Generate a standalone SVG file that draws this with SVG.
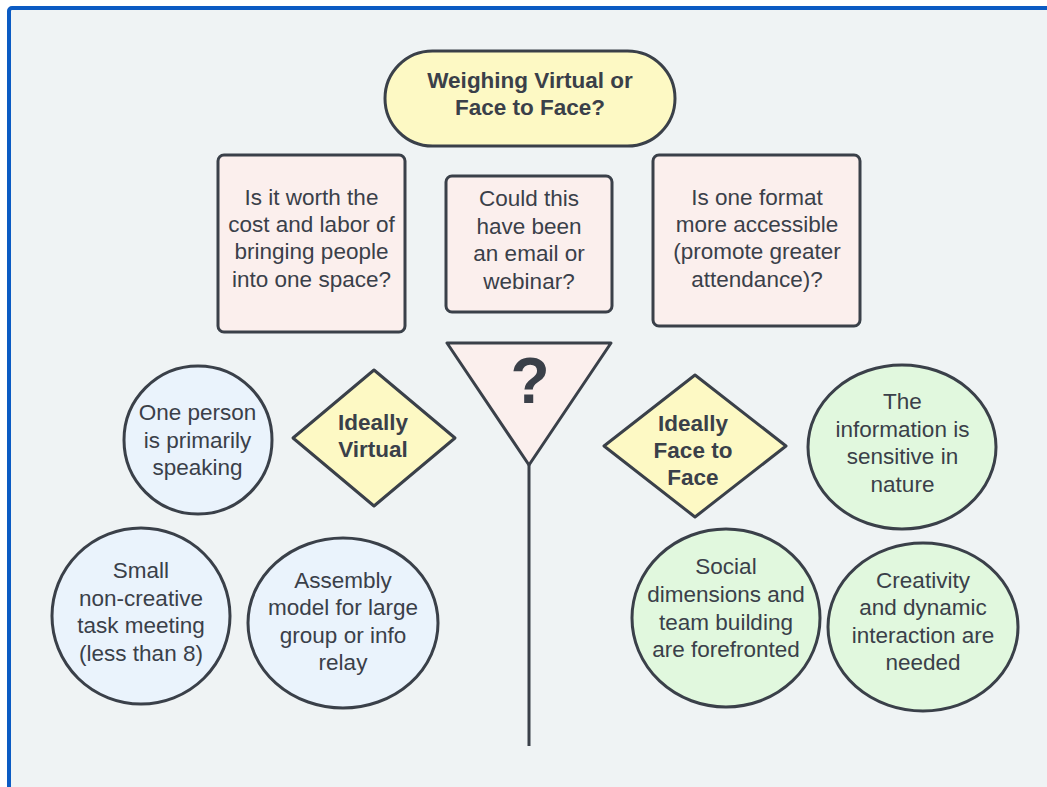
<svg xmlns="http://www.w3.org/2000/svg" width="1047" height="787" viewBox="0 0 1047 787">
<style>
  .shape { stroke: #3a4049; stroke-width: 3; stroke-linejoin: round; }
  .t { font-family: "Liberation Sans", Arial, sans-serif; font-size: 22.5px; fill: #3a4049; text-anchor: middle; }
  .b { font-weight: bold; }
  .yellow { fill: #fdf9c4; }
  .pink { fill: #fbefed; }
  .blue { fill: #eaf3fc; }
  .green { fill: #e1f8de; }
</style>
<rect x="0" y="0" width="1047" height="787" fill="#ffffff"/>
<rect x="9" y="8" width="1100" height="900" rx="3" fill="#eff3f4" stroke="#0b5bc3" stroke-width="4"/>

<g id="connectors">
  <line x1="529" y1="465" x2="529" y2="746" stroke="#3a4049" stroke-width="3"/>
</g>

<g id="title">
  <rect class="shape yellow" x="385" y="51" width="290" height="95" rx="47.5"/>
  <text class="t b" x="530" y="88">Weighing Virtual or</text>
  <text class="t b" x="530" y="115">Face to Face?</text>
</g>

<g id="q-cost">
  <rect class="shape pink" x="218" y="155" width="187" height="177" rx="6"/>
  <text class="t" x="311.5" y="205">Is it worth the</text>
  <text class="t" x="311.5" y="232">cost and labor of</text>
  <text class="t" x="311.5" y="259">bringing people</text>
  <text class="t" x="311.5" y="287">into one space?</text>
</g>

<g id="q-email">
  <rect class="shape pink" x="446" y="176" width="166" height="136" rx="6"/>
  <text class="t" x="529" y="206">Could this</text>
  <text class="t" x="529" y="234">have been</text>
  <text class="t" x="529" y="261">an email or</text>
  <text class="t" x="529" y="289">webinar?</text>
</g>

<g id="q-access">
  <rect class="shape pink" x="653" y="155" width="207" height="171" rx="6"/>
  <text class="t" x="757" y="205">Is one format</text>
  <text class="t" x="757" y="232">more accessible</text>
  <text class="t" x="757" y="259">(promote greater</text>
  <text class="t" x="757" y="287">attendance)?</text>
</g>

<g id="question">
  <polygon class="shape pink" points="447,343 611,343 529,465"/>
  <text class="t b" x="530" y="403" style="font-size:64px">?</text>
</g>

<g id="ideally-virtual">
  <polygon class="shape yellow" points="374,370 455,438 374,506 293,438"/>
  <text class="t b" x="373" y="430">Ideally</text>
  <text class="t b" x="373" y="457">Virtual</text>
</g>

<g id="ideally-face">
  <polygon class="shape yellow" points="695,375 786,446 695,517 604,446"/>
  <text class="t b" x="693" y="431">Ideally</text>
  <text class="t b" x="693" y="458">Face to</text>
  <text class="t b" x="693" y="485">Face</text>
</g>

<g id="one-person">
  <ellipse class="shape blue" cx="198" cy="440" rx="74" ry="74"/>
  <text class="t" x="197.5" y="420">One person</text>
  <text class="t" x="197.5" y="448">is primarily</text>
  <text class="t" x="197.5" y="475">speaking</text>
</g>

<g id="small-meeting">
  <ellipse class="shape blue" cx="141" cy="616" rx="89" ry="88"/>
  <text class="t" x="141" y="578">Small</text>
  <text class="t" x="141" y="606">non-creative</text>
  <text class="t" x="141" y="633">task meeting</text>
  <text class="t" x="141" y="661">(less than 8)</text>
</g>

<g id="assembly">
  <ellipse class="shape blue" cx="343" cy="623" rx="95" ry="85"/>
  <text class="t" x="343" y="588">Assembly</text>
  <text class="t" x="343" y="615">model for large</text>
  <text class="t" x="343" y="643">group or info</text>
  <text class="t" x="343" y="670">relay</text>
</g>

<g id="sensitive">
  <ellipse class="shape green" cx="902" cy="447" rx="94" ry="82"/>
  <text class="t" x="902.5" y="409">The</text>
  <text class="t" x="902.5" y="437">information is</text>
  <text class="t" x="902.5" y="464">sensitive in</text>
  <text class="t" x="902.5" y="492">nature</text>
</g>

<g id="social">
  <ellipse class="shape green" cx="726" cy="618" rx="94" ry="89"/>
  <text class="t" x="726" y="574">Social</text>
  <text class="t" x="726" y="602">dimensions and</text>
  <text class="t" x="726" y="630">team building</text>
  <text class="t" x="726" y="657">are forefronted</text>
</g>

<g id="creativity">
  <ellipse class="shape green" cx="923" cy="627" rx="95" ry="84"/>
  <text class="t" x="923" y="588">Creativity</text>
  <text class="t" x="923" y="615">and dynamic</text>
  <text class="t" x="923" y="643">interaction are</text>
  <text class="t" x="923" y="670">needed</text>
</g>
</svg>
